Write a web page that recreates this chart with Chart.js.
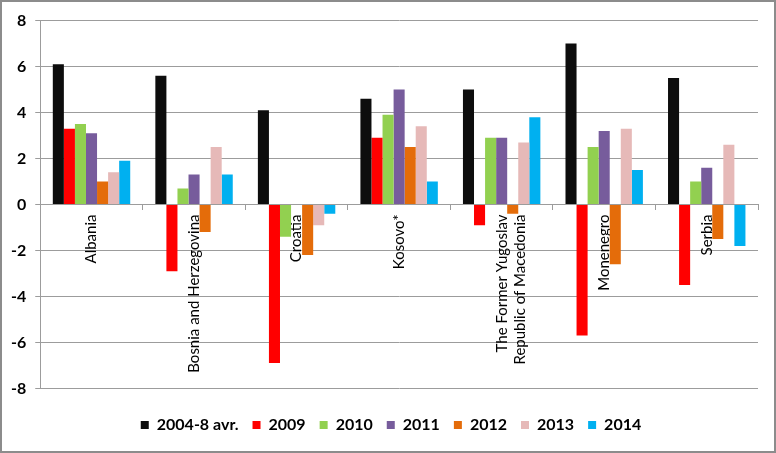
<!DOCTYPE html>
<html>
<head>
<meta charset="utf-8">
<script src="https://cdn.jsdelivr.net/npm/chart.js@4/dist/chart.umd.min.js"></script>
<style>
  html, body { margin: 0; padding: 0; background: #fff; }
  #wrap { width: 776px; height: 453px; box-sizing: border-box; border: 2px solid #8c8c8c; position: relative; }
</style>
</head>
<body>
<div id="wrap"><canvas id="growthChart"></canvas></div>
<script>
// Countries and series
const countries = ['Albania', 'Bosnia and Herzegovina', 'Croatia', 'Kosovo*',
  ['The Former Yugoslav', 'Republic of Macedonia'], 'Monenegro', 'Serbia'];
const seriesNames = ['2004-8 avr.', '2009', '2010', '2011', '2012', '2013', '2014'];

const avg2004_8 = [6.1, 5.6, 4.1, 4.6, 5.0, 7.0, 5.5];
const y2009 = [3.3, -2.9, -6.9, 2.9, -0.9, -5.7, -3.5];
const y2010 = [3.5, 0.7, -1.4, 3.9, 2.9, 2.5, 1.0];
const y2011 = [3.1, 1.3, 0, 5.0, 2.9, 3.2, 1.6];
const y2012 = [1.0, -1.2, -2.2, 2.5, -0.4, -2.6, -1.5];
const y2013 = [1.4, 2.5, -0.9, 3.4, 2.7, 3.3, 2.6];
const y2014 = [1.9, 1.3, -0.4, 1.0, 3.8, 1.5, -1.8];

const yTicks = [-8, -6, -4, -2, 0, 2, 4, 6, 8];

const seriesValues = [avg2004_8, y2009, y2010, y2011, y2012, y2013, y2014];
const seriesColors = ['#0d0d0d', '#ff0000', '#92d050', '#775c9c', '#e46c0a', '#e6b9b8', '#00b0f0'];

const gridGrey = '#9c9c9c';

const datasets = seriesNames.map((name, i) => ({
    label: name,
    data: seriesValues[i],
    backgroundColor: seriesColors[i],
    borderWidth: 0,
    categoryPercentage: 0.755,
    barPercentage: 1.0,
}));

// nudge the legend a little to the right, centred under the plot like the original
const legendShift = {
    id: 'legendShift',
    afterLayout(chart) {
        chart.legend.left += 11;
        chart.legend.right += 11;
    },
};

const ctx = document.getElementById('growthChart').getContext('2d');

new Chart(ctx, {
    type: 'bar',
    data: { labels: countries, datasets: datasets },
    plugins: [legendShift],
    options: {
        responsive: true,
        maintainAspectRatio: false,
        animation: false,
        layout: { padding: { left: 0, right: 16, top: 13, bottom: 8 } },
        plugins: {
            legend: {
                position: 'bottom',
                // empty title only adds some room between plot and legend
                title: { display: true, text: ' ', font: { size: 8 }, padding: { top: 0, bottom: 5 } },
                labels: {
                    color: '#000',
                    boxWidth: 8,
                    boxHeight: 8,
                    padding: 14,
                    font: { family: 'Lato', size: 16, weight: 'bold' },
                },
            },
            tooltip: { enabled: false },
        },
        scales: {
            x: {
                position: { y: 0 },
                offset: true,
                grid: {
                    offset: true,
                    drawOnChartArea: false,
                    drawTicks: true,
                    tickLength: 5,
                    color: gridGrey,
                },
                border: { color: gridGrey, width: 1 },
                ticks: {
                    color: '#000',
                    minRotation: 90,
                    maxRotation: 90,
                    autoSkip: false,
                    padding: 5,
                    font: { family: 'Lato', size: 15 },
                },
            },
            y: {
                min: -8,
                max: 8,
                afterBuildTicks: axis => { axis.ticks = yTicks.map(v => ({ value: v })); },
                grid: { color: gridGrey, tickLength: 5 },
                border: { color: gridGrey, width: 1 },
                ticks: {
                    color: '#000',
                    padding: 9,
                    font: { family: 'Lato', size: 16, weight: 'bold' },
                },
            },
        },
    },
});
</script>
</body>
</html>
